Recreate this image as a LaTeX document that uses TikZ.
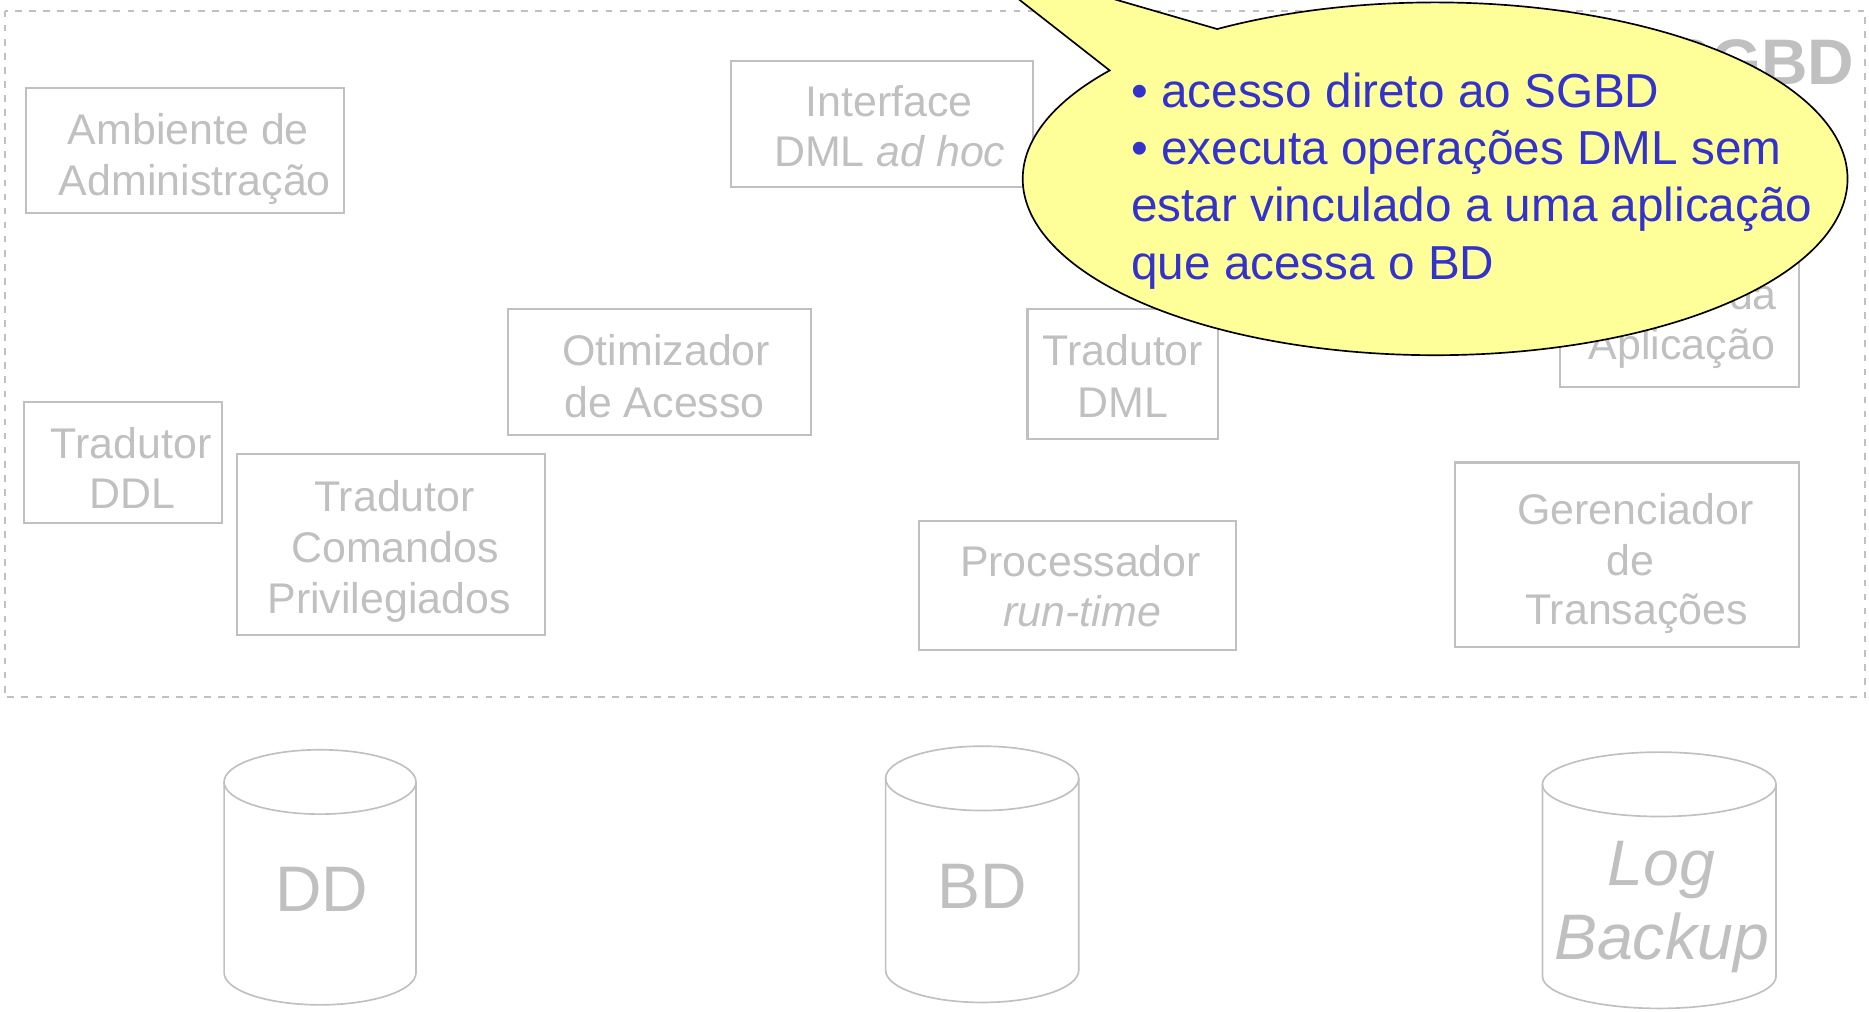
\documentclass[tikz,border=0pt]{standalone}
\usepackage{fontspec}
\setmainfont{Liberation Sans}
\definecolor{lg}{RGB}{192,192,192}
\definecolor{cfill}{RGB}{255,255,153}
\definecolor{ctext}{RGB}{51,51,204}
\begin{document}
\begin{tikzpicture}[x=0.5pt,y=-0.5pt,
  box/.style={draw=lg, line width=0.85pt, rectangle, inner sep=0pt},
  btxt/.style={text=lg, inner sep=0pt, anchor=base, font=\fontsize{18}{21}\selectfont},
  ctxt/.style={text=ctext, inner sep=0pt, anchor=base west, font=\fontsize{20}{24}\selectfont},
  cyl/.style={draw=lg, line width=0.7pt},
  cyltxt/.style={text=lg, inner sep=0pt, anchor=base, font=\fontsize{27}{32}\selectfont},
  area/.style={draw=lg, line width=0.8pt, dash pattern=on 2.8pt off 3.1pt},
  callout/.style={fill=cfill, draw=black, line width=0.7pt, line join=miter}
]
\useasboundingbox (0,0) rectangle (1568,848.2);
\clip (0,0) rectangle (1568,848.2);

% SGBD area
\draw[area] (4,9) rectangle (1565,585);
\node[text=lg, inner sep=0pt, anchor=base east, font=\fontsize{27}{32}\selectfont\bfseries] (sgbd) at (1556,71) {SGBD};

% boxes
\node[box, minimum width=133.5pt, minimum height=52.5pt] (adm) at (155.5,126.5) {};
\node[btxt] (adm1) at (158,121) {Ambiente de};
\node[btxt] (adm2) at (163.5,164) {Administração};

\node[box, minimum width=127pt, minimum height=53pt] (iface) at (740,104) {};
\node[btxt] (iface1) at (746,98) {Interface};
\node[btxt] (iface2) at (746.5,140) {DML \textit{ad hoc}};

\node[box, minimum width=127pt, minimum height=53pt] (otim) at (553,312) {};
\node[btxt] (otim1) at (559,307) {Otimizador};
\node[btxt] (otim2) at (557.5,350) {de Acesso};

\node[box, minimum width=80pt, minimum height=54.5pt] (tdml) at (942,313.5) {};
\node[btxt] (tdml1) at (942,307) {Tradutor};
\node[btxt] (tdml2) at (942,350) {DML};

\node[box, minimum width=100pt, minimum height=62.5pt] (apl) at (1409,262.5) {};
\node[btxt, anchor=base east] (apl1) at (1491,260) {da};
\node[btxt] (apl2) at (1411,302) {Aplicação};

\node[box, minimum width=83pt, minimum height=51pt] (tddl) at (103,388) {};
\node[btxt] (tddl1) at (110,385) {Tradutor};
\node[btxt] (tddl2) at (111,427) {DDL};

\node[box, minimum width=129pt, minimum height=76pt] (tcp) at (328,457) {};
\node[btxt] (tcp1) at (331,429) {Tradutor};
\node[btxt] (tcp2) at (331.5,472) {Comandos};
\node[btxt] (tcp3) at (326.5,515) {Privilegiados};

\node[box, minimum width=133pt, minimum height=54pt] (proc) at (904,491) {};
\node[btxt] (proc1) at (906.5,484) {Processador};
\node[btxt] (proc2) at (908,526) {\textit{run-time}};

\node[box, minimum width=144pt, minimum height=77.5pt] (ger) at (1365,465.5) {};
\node[btxt] (ger1) at (1372,440) {Gerenciador};
\node[btxt] (ger2) at (1367.5,482.5) {de};
\node[btxt] (ger3) at (1373,523.5) {Transações};

% cylinders
\draw[cyl] (188,656) -- (188,816) arc[start angle=180,end angle=360,x radius=40.25pt,y radius=13.5pt] -- (349,656);
\draw[cyl] (268.5,656) ellipse[x radius=40.25pt,y radius=13.5pt];
\node[cyltxt] (dd) at (270,765) {DD};

\draw[cyl] (743,653) -- (743,814) arc[start angle=180,end angle=360,x radius=40.5pt,y radius=13.5pt] -- (905,653);
\draw[cyl] (824,653) ellipse[x radius=40.5pt,y radius=13.5pt];
\node[cyltxt] (bd) at (824,762) {BD};

\draw[cyl] (1294,658) -- (1294,819) arc[start angle=180,end angle=360,x radius=49pt,y radius=13.5pt] -- (1490,658);
\draw[cyl] (1392,658) ellipse[x radius=49pt,y radius=13.5pt];
\node[cyltxt] (log1) at (1394,742.5) {\textit{Log}};
\node[cyltxt] (log2) at (1394,805) {\textit{Backup}};

% callout
\coordinate (tip) at (807.6,-37.5);
\filldraw[callout] (tip) -- plot[domain=-121.9:217.9, samples=300] ({1204+346*cos(\x)},{150+148*sin(\x)}) -- cycle;
\node[ctxt] (c1) at (948.7,90) {• acesso direto ao SGBD};
\node[ctxt] (c2) at (948.7,138) {• executa operações DML sem};
\node[ctxt] (c3) at (948.7,186) {estar vinculado a uma aplicação};
\node[ctxt] (c4) at (948.7,234.3) {que acessa o BD};
\end{tikzpicture}
\end{document}
